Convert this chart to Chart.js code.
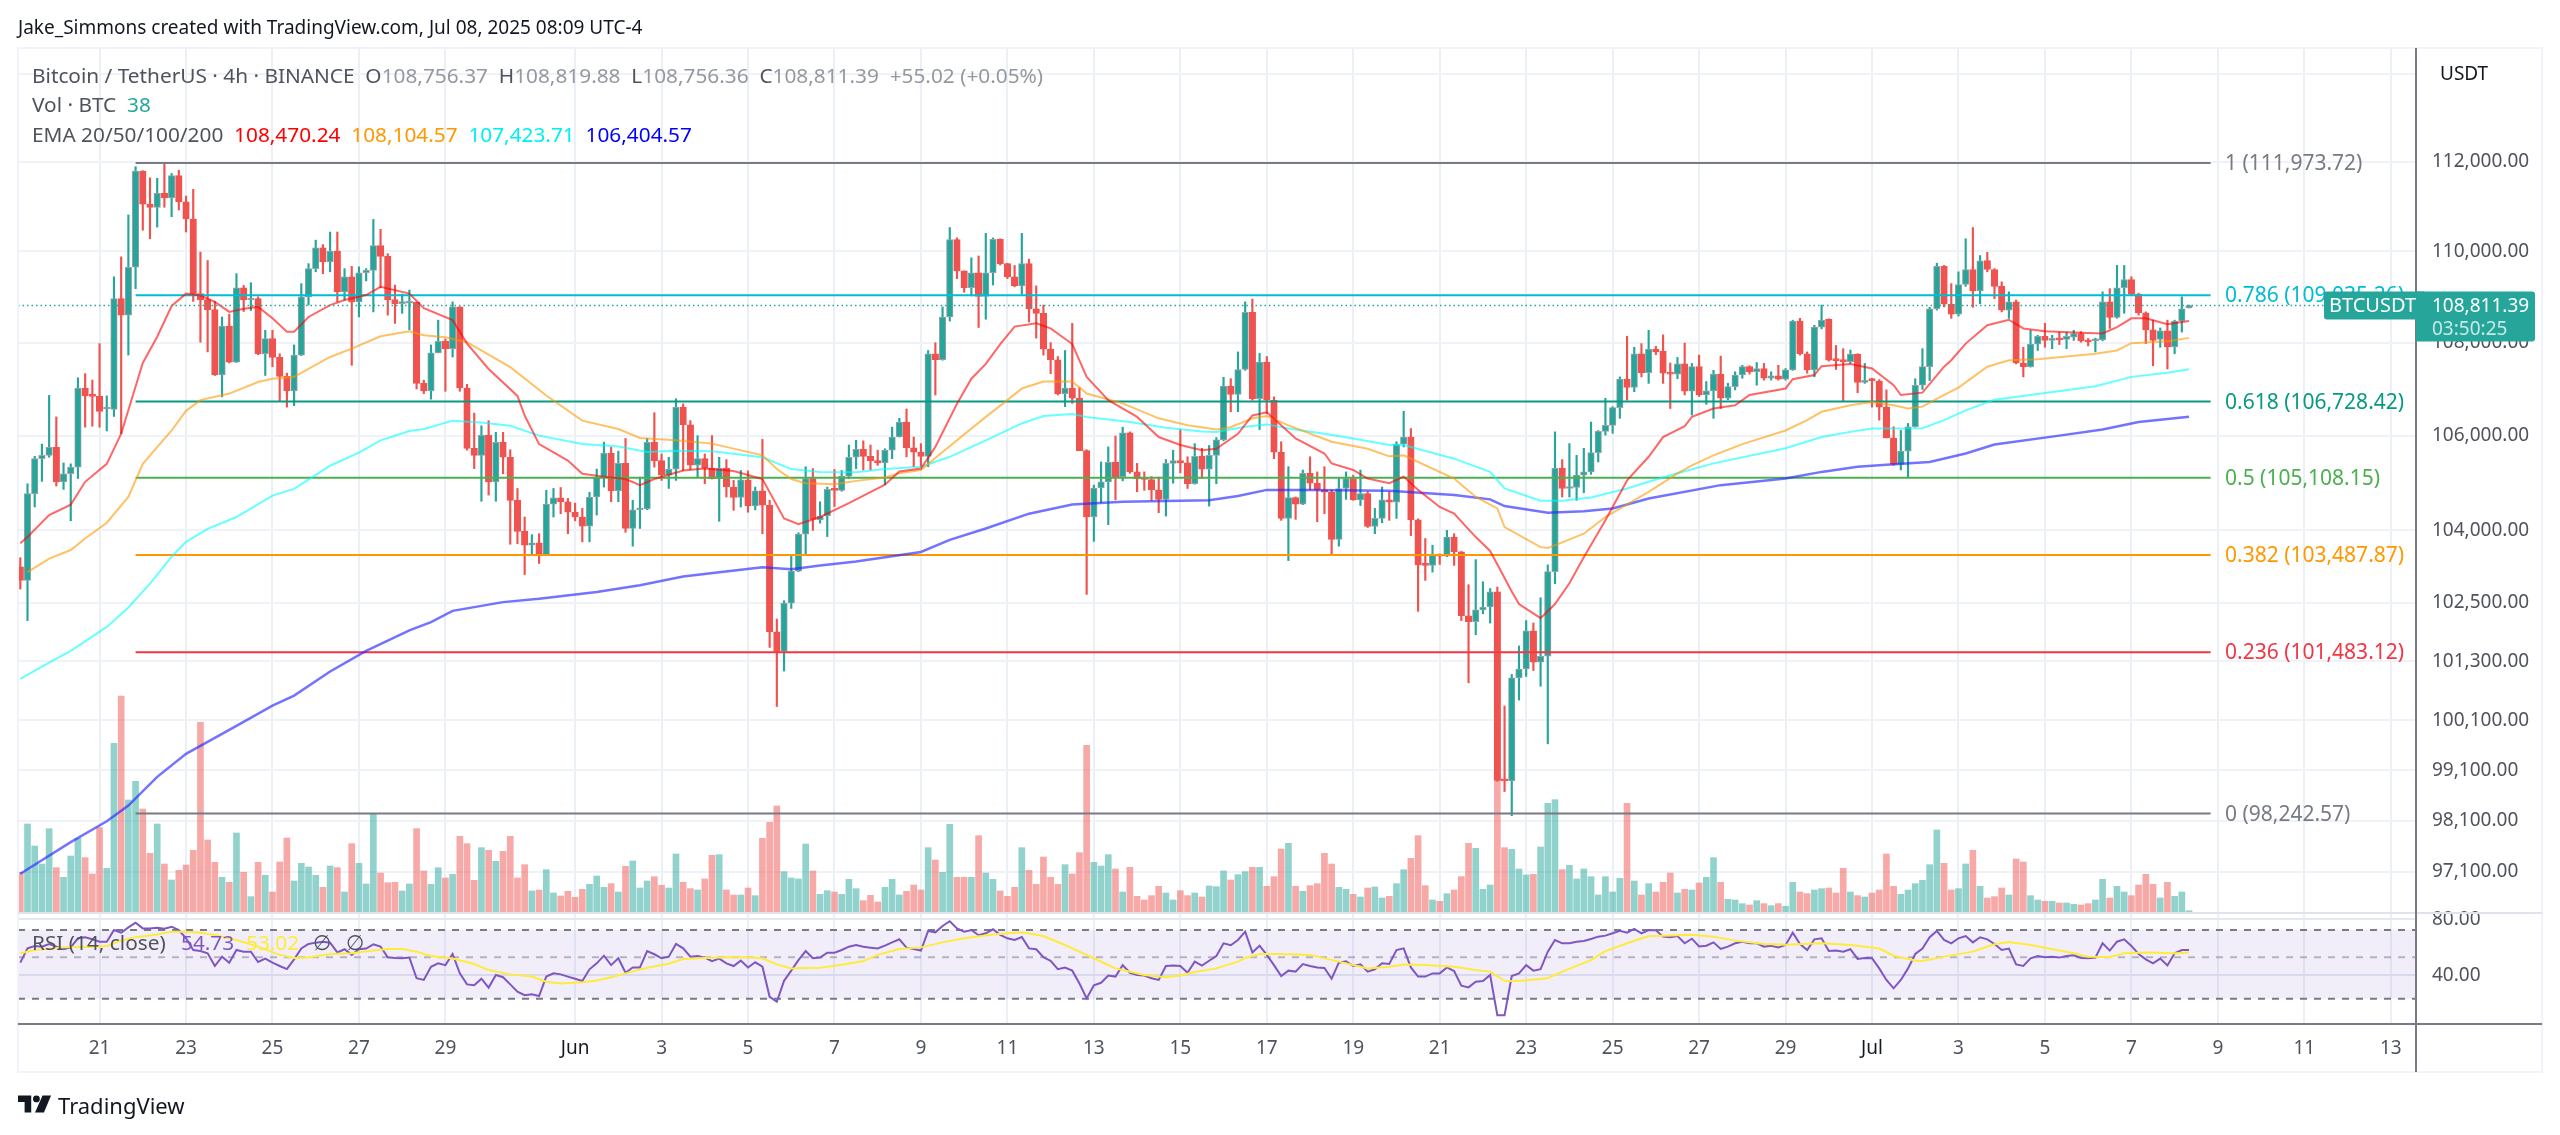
<!DOCTYPE html>
<html>
<head>
<meta charset="utf-8">
<title>BTCUSDT 4h</title>
<script src="https://cdn.jsdelivr.net/npm/chart.js@4/dist/chart.umd.min.js"></script>
<style>
  html, body { margin: 0; padding: 0; background: #fff; }
  #wrap { position: relative; width: 2560px; height: 1135px; overflow: hidden; font-family: "Noto Sans", sans-serif; }
  canvas { position: absolute; left: 0; top: 0; }
  .txt { position: absolute; white-space: pre; font-size: 19px; line-height: 24px; color: #50535e; }
  .leg { font-size: 20.8px; }
  .grey { color: #9598a1; }
</style>
</head>
<body>
<div id="wrap">
  <canvas id="chart" width="2560" height="1135"></canvas>
  <div class="txt" style="left:18px;top:15px;color:#131722">Jake_Simmons created with TradingView.com, Jul 08, 2025 08:09 UTC-4</div>
  <div class="txt leg" style="left:32px;top:63px">Bitcoin / TetherUS · 4h · BINANCE  O<span class="grey">108,756.37</span>  H<span class="grey">108,819.88</span>  L<span class="grey">108,756.36</span>  C<span class="grey">108,811.39</span>  <span class="grey">+55.02 (+0.05%)</span></div>
  <div class="txt leg" style="left:32px;top:92px">Vol · BTC  <span style="color:#26a69a">38</span></div>
  <div class="txt leg" style="left:32px;top:122px">EMA 20/50/100/200  <span style="color:#ff0000">108,470.24</span>  <span style="color:#ff9800">108,104.57</span>  <span style="color:#00f0f0">107,423.71</span>  <span style="color:#0000ff">106,404.57</span></div>
  <div class="txt leg" style="left:32px;top:930px">RSI (14, close)</div>
  <div class="txt leg" style="left:181px;top:930px;color:#7e57c2">54.73</div>
  <div class="txt leg" style="left:246px;top:930px;color:#ffeb3b">53.02</div>
  <div class="txt leg" style="left:313px;top:930px">∅</div>
  <div class="txt leg" style="left:346px;top:930px">∅</div>
  <svg style="position:absolute;left:18px;top:1095px" width="34" height="18" viewBox="0 0 36 18">
    <path d="M0 0h14v18H7V7H0z" fill="#131722"/><circle cx="19.5" cy="3.6" r="3.6" fill="#131722"/><path d="M26 0h9l-7.5 18H18z" fill="#131722"/>
  </svg>
  <div class="txt" style="left:58px;top:1092px;font-size:22px;line-height:26px;color:#131722">TradingView</div>
</div>
<script>
// candles are 4h, index 0 = May 19 04:00, index 11 = May 21 00:00
const opens = [
103240,102960,104770,105510,105580,105750,105020,105190,105330,107020,
106860,106840,106570,106560,108960,108600,109650,111790,111050,110980,
111290,111190,111690,111100,110720,109070,108940,108720,107300,108360,
107580,109200,108930,108960,107760,108090,107680,107270,106960,107730,
109000,109620,110080,109770,110010,109110,109440,108890,109530,109580,
110130,109890,108940,108850,108860,108880,107120,106960,107780,108030,
107870,108780,107020,105730,105580,106010,105020,105860,105540,104630,
103980,103690,103740,103490,104550,104680,104600,104380,104280,104090,
104700,105120,105630,104830,105410,104040,104430,104450,105860,105470,
105160,105290,106610,106230,105370,105510,105310,105080,105310,104910,
104690,105060,104510,104830,104530,101900,101500,102490,103150,103920,
105090,104220,104300,104860,104840,105140,105540,105710,105560,105470,
105420,105690,105970,106290,105740,105650,105560,107760,107630,108560,
110260,109570,109200,109530,109010,109530,110270,109730,109440,109240,
109730,108740,108640,107860,107630,106900,107020,106800,105680,104280,
104890,105020,105430,105130,106060,105230,105090,105070,104850,104650,
105410,105470,105420,104980,105560,105290,105580,105910,107060,106880,
107420,108660,106790,107580,106760,105650,104250,104690,104550,105200,
104990,104850,104800,103810,104880,105090,104640,104770,104080,104250,
104640,104590,105820,105970,104220,103280,103270,103480,103460,103860,
103550,102230,102110,102350,102410,102720,98900,98890,100960,101140,
101920,101280,101400,103140,105310,104880,104900,105160,105230,105640,
106090,106220,106600,107210,107030,107760,107350,107860,107820,107340,
107320,107540,106950,107480,106870,106960,107320,106800,107050,107300,
107480,107370,107440,107230,107280,107210,107410,108470,107760,107410,
108340,108510,107650,107610,107590,107750,107140,107190,107170,106610,
105950,105390,105670,106190,107080,107480,108740,109670,108840,108620,
109270,109600,109130,109800,109600,109230,108710,108890,107560,107480,
107970,108140,108050,108080,108070,108120,108200,108040,108040,108060,
108890,108550,109200,109380,109060,108650,108280,108070,108260,107910,
108470,108756.37];
const highs = [
103430,104980,105560,105820,106860,106400,105420,105400,107240,107330,
107190,107980,106850,109440,109880,110810,111890,111800,111640,111630,
111960,111740,111810,111230,111380,109985,109800,108900,108560,108620,
109510,109250,109310,109000,108270,108270,107760,107340,107950,109290,
109730,110250,110150,110430,110430,109620,109670,109660,109620,110710,
110490,109950,109260,109060,109150,108890,107190,107950,108490,108080,
108890,108780,107100,106480,106210,106320,106070,106070,105700,104880,
104280,103910,103930,104840,104880,104900,104670,104570,104460,104800,
105290,105860,105750,105670,105940,104630,105120,105940,106490,105610,
105540,106790,106680,106320,106000,105610,106000,105540,105490,105050,
105260,105250,104910,105920,104630,102160,102540,103480,103950,105340,
105300,104600,104910,105280,105260,105800,105900,105890,105800,105690,
105720,106180,106370,106570,105970,105830,107830,108000,108780,110530,
110300,109570,109860,109900,110400,110300,110280,109740,109690,110400,
109830,109240,108820,108000,107700,107830,108420,107030,105700,104950,
105440,105760,105990,106180,106080,105410,105230,105130,105120,105490,
105690,106130,105550,105830,105730,105790,105960,107250,107220,107800,
108890,108950,107770,107700,106830,105870,105340,104700,105270,105550,
105230,105340,104850,105090,105230,105160,105270,104810,104460,104910,
104810,105870,106520,106150,104240,103830,103690,103510,104000,103930,
103560,102870,103390,102930,102790,102820,100390,101030,101610,102130,
102080,102600,103280,106080,105490,105830,105580,105730,106290,106110,
106800,106620,107260,108140,107900,107980,108270,107920,108170,107560,
107680,107990,107550,107730,107160,107400,107710,107120,107370,107510,
107500,107570,107550,107370,107510,107440,108490,108530,107800,108380,
108820,108520,107940,107870,107840,107760,107550,107230,107200,106980,
106190,106110,106260,107220,107870,108770,109740,109690,109290,109550,
110280,110530,109910,109980,109620,109330,109110,108930,107900,108270,
108160,108420,108160,108230,108230,108270,108240,108090,108100,109110,
109180,109690,109690,109440,109080,108670,108490,108320,108490,108490,
109000,108819.88];
const lows = [
102780,102130,104490,105030,105540,104930,104860,104200,105090,106180,
106200,106180,106100,106410,106040,107730,109180,110470,110280,110540,
110980,110770,110920,110430,108900,108010,107800,107290,106830,107560,
107570,108680,108700,107740,107290,107480,106740,106610,106640,107720,
108820,109550,109510,109550,108890,108930,107510,108560,109350,108670,
109200,108600,108420,108640,108280,107000,106900,106780,107780,106950,
107690,106950,105690,105300,104610,104740,104610,105190,103710,103720,
103080,103500,103310,103490,104280,104350,103930,104200,103760,103760,
104320,104910,104600,104600,103960,103670,104040,104430,105330,105050,
104880,105050,105260,105280,105120,104980,105080,104190,104700,104420,
104490,104380,104430,103930,101580,100380,101100,102380,103140,103510,
104000,104150,103870,104500,104820,105090,105300,105270,105270,105370,
104960,105510,105970,105550,105340,105340,105340,106870,107620,108470,
109400,109100,109020,108330,108510,109260,109700,109400,109220,109060,
108450,108100,107730,107330,106870,106620,106690,105680,102670,103770,
104580,104120,104640,105040,105200,104810,104840,104630,104370,104300,
104990,105210,104880,104970,105090,104510,104980,105890,106510,106510,
107400,106760,106130,106470,105510,104210,103370,104230,104540,104850,
104180,104350,103500,103670,104650,104630,104520,104060,103930,104160,
104210,104250,105760,103890,102320,102960,103130,103290,103450,103270,
102130,100860,101840,102270,102080,98880,98680,98200,100510,100990,
101110,100790,99630,102890,104700,104700,104630,104790,105180,105440,
106010,106050,106370,106760,106940,107260,107120,107740,107120,106580,
107220,106870,106440,106840,106670,106370,106580,106770,106980,107230,
107320,107080,107190,107190,107190,107190,107400,107730,107340,107260,
108300,107600,107420,106750,107550,106920,107120,106610,106330,105950,
105370,105270,105130,106180,106990,107180,108710,108780,108530,108580,
109230,108770,108850,109550,108960,108670,108530,107540,107260,107470,
107830,107900,107870,107960,107870,108050,108010,107930,107800,108040,
108310,108530,108640,109040,108600,107980,107500,107900,107430,107760,
108230,108756.36];
const closes = [
102960,104770,105510,105580,105750,105020,105190,105330,107020,106850,
106840,106520,106600,108960,108600,109650,111790,111050,110980,111290,
111190,111690,111100,110720,109070,108940,108720,107300,108360,107580,
109200,108930,108960,107760,108090,107680,107270,106960,107730,109000,
109620,110080,109770,110010,109110,109440,108890,109530,109580,110130,
109890,108940,108850,108870,108900,107120,106960,107780,108030,107870,
108780,107020,105730,105580,106010,105020,105860,105540,104630,103980,
103690,103740,103490,104550,104680,104600,104380,104280,104090,104700,
105120,105630,104830,105410,104040,104430,104450,105860,105470,105160,
105290,106610,106230,105370,105510,105310,105080,105310,104910,104690,
105060,104510,104830,104530,101900,101500,102490,103150,103920,105090,
104230,104300,104860,104840,105140,105540,105710,105560,105470,105420,
105690,105970,106290,105740,105650,105560,107760,107630,108560,110260,
109570,109200,109530,109010,109530,110270,109730,109440,109240,109730,
108740,108640,107860,107630,106900,107020,106800,105680,104280,104890,
105020,105430,105130,106060,105230,105080,105070,104850,104650,105410,
105470,105420,104980,105560,105290,105580,105910,107060,106880,107420,
108660,106790,107580,106760,105650,104250,104690,104550,105200,104990,
104850,104800,103810,104880,105090,104640,104770,104080,104250,104640,
104590,105820,105970,104220,103280,103270,103480,103460,103860,103550,
102230,102110,102350,102410,102720,98900,98890,100960,101140,101920,
101280,101400,103140,105310,104880,104900,105160,105230,105640,106090,
106220,106600,107210,107030,107760,107350,107860,107800,107340,107320,
107540,106950,107480,106870,106960,107320,106800,107050,107300,107480,
107370,107440,107230,107280,107210,107410,108470,107760,107410,108340,
108490,107620,107610,107590,107750,107140,107180,107180,106610,105950,
105390,105670,106190,107080,107480,108740,109670,108840,108620,109270,
109600,109130,109790,109600,109230,108710,108890,107560,107480,107970,
108140,108050,108070,108060,108140,108200,108040,108020,108070,108890,
108550,109200,109380,109060,108650,108280,108050,108260,107910,108470,
108740,108811.39];
const volumes = [
1190,2640,1980,1440,2500,1330,1040,1680,2210,1630,1140,2530,1310,5060,6480,3360,3920,3090,1760,2640,
1440,960,1250,1410,1850,5690,2160,1490,1040,890,2370,1190,460,1490,1100,600,1500,2220,930,1460,
1350,1100,740,1380,1330,600,2050,1460,840,2960,1170,880,890,630,840,2500,1230,830,1330,1020,
1130,2270,2050,950,1930,1850,1520,1820,2270,1020,1420,630,660,1270,570,480,620,440,680,830,
1080,740,850,600,1370,1530,720,930,1060,800,720,1740,890,700,660,990,1700,1720,660,510,
510,720,490,2210,2690,3180,1210,1020,990,2040,1230,530,640,600,530,980,700,340,500,300,
740,980,510,620,810,660,1930,1560,1190,2630,1040,1040,1040,2290,1170,980,630,470,740,1930,
1250,830,1650,1040,830,1420,1140,1780,5000,1490,1380,1720,1290,600,1340,470,360,490,770,570,
360,640,490,570,450,780,760,1230,960,1120,1210,1340,1340,770,1060,1890,2060,770,620,790,
850,1760,1440,740,680,530,450,720,750,420,470,850,1270,1610,2290,790,360,320,550,660,
1060,2060,1910,680,810,3960,1930,1880,1290,1110,1130,1950,3260,3370,1270,1400,990,1290,1060,510,
1060,600,1010,3260,930,510,850,600,890,1170,570,680,660,870,1040,1630,890,380,360,250,
210,340,250,190,250,170,890,600,550,660,700,720,570,1310,600,490,450,570,660,1740,
770,530,660,850,950,1420,2460,1460,660,700,1440,1850,770,420,460,720,510,1590,1500,490,
360,320,320,270,270,230,210,250,360,980,420,770,600,490,810,1130,830,420,890,470,
600,38];
const rsiValues = [
46.8,55.8,57.5,57,58.9,57,55.2,56.5,63.2,64,62.4,60.6,60.6,70,67.7,72.3,76.6,71.4,71.4,72,
71.1,72.9,70,63.2,54.7,54,52.5,44.9,50.4,46.8,54.7,53.6,53.6,47.2,49.2,46.8,44.9,43.2,48.7,55.8,
58.9,59.9,60.6,59.9,53.1,55.2,51.5,55.2,55.7,58.7,57,50,49.6,49.4,49.8,38.6,37.8,44.5,46.4,45.4,
52.1,41,35.8,35.4,38.4,34.4,40.2,39.1,35.8,32.7,31.3,31.7,31,39.4,41,40.5,39.4,38.4,37.3,43.1,
46.4,51,45.4,49.4,41.3,44.1,44.1,54,51.9,49.4,50.4,58.9,55.8,50.4,50.8,49.8,47.7,49.2,46.4,44.9,
48,44.1,47,44.5,30.7,28.9,37.4,42.4,48.3,54,49.4,49.8,52.9,52.9,54.7,57,58.2,57,56.3,55.7,
57.7,60.1,62.4,56.3,55.4,54.3,69.2,68,73.6,78,71.4,68.6,70,65.6,67.2,70.6,65.9,63.2,61.9,64.2,
55.8,55.2,50,47.9,43.2,44.1,42.4,36.2,30.1,35.4,36.5,39.9,39.4,45.4,41.3,40.2,39.9,38.6,37.8,44.9,
45.2,44.9,41.3,47.4,45.1,47.9,50.8,59.4,58,61.9,68.6,53.1,57.7,51.5,45.4,39.7,42.4,41.9,46,44.9,
44.1,43.8,38.4,46.8,47.6,44.9,45.8,41.9,43.1,46.4,46,54.7,55.8,44.1,39.4,39.4,41,41,44.1,42.2,
35.2,34.5,37,37.3,40.2,24.5,24.5,39.7,41,45.4,42.4,43.2,53.6,61.9,59.4,59.4,60.6,61.1,62.6,64.5,
65.3,67.2,69.4,67.7,70.9,67.2,70,69.7,64.5,64,65,59.4,62.9,57.2,57.7,60.1,55.4,57,59.4,60.6,
59.4,59.4,57,57.7,56.5,58.2,67.7,58.9,54.7,62.4,63.2,54,54.3,53.6,55.2,49,49.6,49.4,43.6,37.8,
34.1,37.8,43.6,52.1,55.7,64,69.2,61.9,59.4,63.2,65,60.1,64,62.4,58.9,54.7,55.7,45.8,44.9,49.4,
50.8,50,50.4,49.8,50.8,51.3,49.6,49.4,49.8,59.4,54.3,60.6,62.4,57.5,52.1,48.7,46.4,49.2,45.2,52.5,
54.7,54.73];

const rsiMaIdx = [0,2,6,10,12,14,16,19,21,23,25,27,30,33,36,38,40,43,46,49,51,53,55,57,60,63,65,68,71,73,75,78,80,82,84,87,90,92,95,98,101,103,105,107,109,111,114,117,119,122,125,128,131,135,139,142,145,147,149,152,153,156,159,161,163,166,169,170,172,175,179,183,187,190,192,195,199,202,204,206,208,212,214,218,220,223,226,228,232,235,238,242,245,250,254,258,260,263,264,267,271,274,276,279,281,285,287,290,292,295,299,301];
const rsiMaVals = [52.5,54.7,56.5,57,57.5,61.4,64,66.3,68.6,68.6,67.7,65.9,61.9,57,51.5,49.6,49.8,52.1,52.5,54.3,55.4,55.4,53.6,50.8,49.2,46,42.7,40.5,39.4,37,36.2,36.8,37.6,39.1,41,43.9,46.2,48.9,49.6,50,50,49.4,45.8,43.6,43.8,43.9,45.6,47.7,51.5,55.4,56.5,60.1,63.2,66.3,68,65,58.2,53.6,49.4,43.6,42.7,40.2,39.1,39.9,41.7,43.6,47.4,49.6,52,52.1,51.5,47.4,43.6,44.5,45.8,45.4,44.5,42.7,41.9,37.4,37.3,38.6,41.9,48.3,54,59.4,65,65.3,66,64.5,61.4,58.9,58.4,59.4,58.2,55.7,51,48.1,47.7,50.4,53.6,58.7,60.4,58.2,56.3,52.5,50.4,50.2,52.5,53,52.5,53.02];

const ema20Idx = [0,1,4,7,9,12,14,17,19,21,23,25,27,29,31,33,35,37,38,40,43,45,48,50,54,56,60,62,65,69,70,72,76,78,81,84,86,88,92,95,99,103,106,108,111,115,120,122,125,127,130,132,134,136,138,141,143,146,148,151,155,158,161,164,166,169,171,173,175,177,181,182,185,187,190,192,194,197,199,202,204,207,208,211,213,215,217,220,223,226,228,231,232,235,238,240,245,246,249,250,254,257,260,261,264,267,268,270,273,276,278,281,285,289,291,293,295,298,301];
const ema20Vals = [103730,103860,104320,104540,105020,105400,106040,107560,108130,108800,109070,109030,108890,108670,108740,108780,108530,108240,108240,108560,108820,108930,109040,109220,109070,108750,108490,107980,107430,106850,106430,105820,105470,105190,105130,105080,104950,105080,105260,105300,105250,105080,104250,104130,104280,104570,104960,105240,105300,105760,106680,107220,107540,107970,108350,108420,108310,107970,107260,106760,106400,105970,105800,105690,105720,106040,106430,106500,106220,105940,105620,105410,105270,105090,104990,105130,104850,104490,104350,103860,103570,102730,102470,102180,102470,102900,103440,104210,105050,105550,105970,106200,106400,106580,106650,106870,107010,107210,107300,107490,107540,107440,107080,106870,106920,107480,107620,107980,108380,108500,108310,108250,108220,108200,108340,108530,108530,108400,108470.24];
const ema50Idx = [1,4,7,9,12,15,17,21,23,25,29,33,35,38,43,46,50,54,56,59,62,68,73,78,83,86,91,96,103,105,107,109,113,116,120,122,125,128,134,137,139,142,146,148,153,158,162,166,168,171,173,176,182,187,190,192,199,202,205,206,211,212,214,217,220,226,230,232,235,239,245,248,250,254,257,260,262,264,267,269,273,276,280,288,291,293,298,301];
const ema50Vals = [103130,103410,103590,103830,104160,104700,105400,106110,106530,106760,106900,107150,107220,107260,107690,107870,108140,108250,108160,108120,108010,107470,106860,106320,106140,105950,105900,105830,105580,105290,105080,104990,104970,105040,105110,105200,105270,105650,106400,106760,107010,107160,107160,106900,106690,106370,106220,106130,106180,106370,106420,106220,105870,105720,105560,105580,105090,104700,104460,104070,103650,103630,103750,103930,104280,104810,105200,105370,105580,105820,106110,106330,106510,106650,106720,106650,106580,106620,106870,107030,107480,107620,107640,107760,107830,107990,108030,108104.57];
const ema100Idx = [0,4,7,12,15,18,21,23,26,30,35,38,43,47,50,54,56,60,64,68,72,78,83,87,91,96,103,107,111,116,120,125,129,134,139,142,146,148,154,159,164,166,170,173,176,181,185,190,192,199,204,206,211,214,218,223,226,230,235,245,250,254,257,264,267,270,274,280,288,293,298,301];
const ema100Vals = [100940,101270,101510,102000,102400,102890,103450,103760,104030,104280,104730,104870,105360,105640,105900,106100,106140,106320,106280,106210,106000,105820,105770,105650,105680,105670,105540,105290,105230,105220,105290,105340,105550,105900,106260,106420,106460,106400,106290,106170,106090,106080,106190,106240,106150,106040,105940,105800,105800,105510,105230,104880,104620,104620,104690,104880,105020,105200,105410,105730,105970,106080,106150,106160,106330,106540,106770,106890,107060,107260,107350,107423.71];
const ema200Idx = [0,7,12,15,19,23,30,35,38,43,48,54,57,60,67,72,80,86,92,97,103,107,111,116,125,129,134,140,146,153,165,169,173,179,190,199,204,206,212,217,221,226,236,245,250,255,260,265,270,274,283,289,294,301];
const ema200Vals = [97060,97680,98090,98400,98970,99430,99990,100400,100600,101090,101510,101930,102100,102330,102510,102580,102720,102860,103040,103130,103230,103190,103270,103350,103550,103800,104040,104350,104540,104600,104630,104720,104850,104850,104830,104740,104650,104510,104370,104400,104460,104670,104950,105090,105230,105340,105390,105440,105620,105810,106000,106130,106290,106404.57];

const fibLevels = [111973.72, 109035.26, 106728.42, 105108.15, 103487.87, 101483.12, 98242.57];
const fibNames = ["1", "0.786", "0.618", "0.5", "0.382", "0.236", "0"];
const fibColors = ["#787b86", "#00bcd4", "#089981", "#4caf50", "#ff9800", "#f23645", "#787b86"];
const fibStart = 16, fibEnd = 304;

const lastPrice = 108811.39;
const xTickIdx = [11,23,35,47,59,77,89,101,113,125,137,149,161,173,185,197,209,221,233,245,257,269,281,293,305,317,329];
const xTickLabels = ["21","23","25","27","29","Jun","3","5","7","9","11","13","15","17","19","21","23","25","27","29","Jul","3","5","7","9","11","13"];
const priceTicks = [97100,98100,99100,100100,101300,102500,104000,106000,108000,110000,112000,114000];
const priceHiddenTick = 114000;
const rsiTicks = [40,80];
const rsiBands = [70,50,30];

const UP = "#26a69a", DOWN = "#ef5350";
const FONT = '"Noto Sans", sans-serif';
const isUp = i => closes[i] >= opens[i];
const money = v => v.toLocaleString("en-US", {minimumFractionDigits: 2, maximumFractionDigits: 2});
const idx = opens.map((_, i) => i);
const xMin = -0.32, xMax = 332.5;

function lineSet(xs, ys, color, order, extra) {
  return Object.assign({
    type: "line",
    data: xs.map((x, i) => ({x: x, y: ys[i]})),
    borderColor: color,
    borderWidth: 2,
    pointRadius: 0,
    tension: 0,
    fill: false,
    order: order
  }, extra);
}

const datasets = [];
datasets.push({
  type: "bar", yAxisID: "vol", order: 20, grouped: false, barThickness: 6,
  data: idx.map(i => ({x: i, y: volumes[i]})),
  backgroundColor: idx.map(i => isUp(i) ? "rgba(38,166,154,0.5)" : "rgba(239,83,80,0.5)")
});
datasets.push({
  type: "bar", yAxisID: "y", order: 15, grouped: false, barThickness: 1.5,
  data: idx.map(i => ({x: i, y: [lows[i], highs[i]]})),
  backgroundColor: idx.map(i => isUp(i) ? UP : DOWN)
});
datasets.push({
  type: "bar", yAxisID: "y", order: 14, grouped: false, barThickness: 6.5, minBarLength: 2,
  data: idx.map(i => ({x: i, y: [opens[i], closes[i]]})),
  backgroundColor: idx.map(i => isUp(i) ? UP : DOWN),
  borderColor: idx.map(i => isUp(i) ? "#9aa0a8" : DOWN),
  borderWidth: 1, borderSkipped: false
});
datasets.push(lineSet(ema200Idx, ema200Vals, "rgba(40,40,255,0.65)", 10, {yAxisID: "y", borderWidth: 2.5}));
datasets.push(lineSet(ema100Idx, ema100Vals, "rgba(0,255,255,0.6)", 9, {yAxisID: "y"}));
datasets.push(lineSet(ema50Idx, ema50Vals, "rgba(255,152,0,0.6)", 8, {yAxisID: "y"}));
datasets.push(lineSet(ema20Idx, ema20Vals, "rgba(255,0,0,0.6)", 7, {yAxisID: "y"}));
fibLevels.forEach((lv, k) => {
  datasets.push(lineSet([fibStart, fibEnd], [lv, lv], fibColors[k], 12, {yAxisID: "y"}));
});
datasets.push(lineSet([xMin, xMax], [lastPrice, lastPrice], "#26a69a", 6, {yAxisID: "y", borderWidth: 1.5, borderDash: [1.5, 3]}));

// RSI pane
datasets.push(lineSet([xMin, xMax], [rsiBands[0], rsiBands[0]], "#787b86", 5, {
  yAxisID: "rsi", borderDash: [7, 7], fill: {target: {value: rsiBands[2]}, above: "rgba(126,87,194,0.1)", below: "rgba(126,87,194,0.1)"}
}));
datasets.push(lineSet([xMin, xMax], [rsiBands[1], rsiBands[1]], "rgba(120,123,134,0.5)", 5, {yAxisID: "rsi", borderDash: [7, 7]}));
datasets.push(lineSet([xMin, xMax], [rsiBands[2], rsiBands[2]], "#787b86", 5, {yAxisID: "rsi", borderDash: [7, 7]}));
datasets.push(lineSet(idx, rsiValues, "#7e57c2", 3, {yAxisID: "rsi"}));
datasets.push(lineSet(rsiMaIdx, rsiMaVals, "#ffeb3b", 2, {yAxisID: "rsi"}));

// frame, fib labels and the last price tag
const overlay = {
  id: "overlay",
  afterDraw(chart) {
    const ctx = chart.ctx, yS = chart.scales.y, a = chart.chartArea;
    ctx.save();
    ctx.strokeStyle = "#f0f3fa"; ctx.lineWidth = 2;
    ctx.strokeRect(18, 48, 2524, 1024);
    ctx.strokeStyle = "#e0e3eb";
    ctx.beginPath(); ctx.moveTo(18, 913); ctx.lineTo(2542, 913); ctx.stroke();
    ctx.strokeStyle = "#787b86";
    ctx.beginPath(); ctx.moveTo(a.right, 48); ctx.lineTo(a.right, 1072); ctx.stroke();
    ctx.beginPath(); ctx.moveTo(18, a.bottom); ctx.lineTo(2542, a.bottom); ctx.stroke();

    ctx.font = "21px " + FONT; ctx.textBaseline = "middle"; ctx.textAlign = "left";
    fibLevels.forEach((lv, k) => {
      ctx.fillStyle = fibColors[k];
      ctx.fillText(fibNames[k] + " (" + money(lv) + ")", 2225, yS.getPixelForValue(lv) + 1);
    });
    ctx.font = "19px " + FONT;
    ctx.fillStyle = "#131722";
    ctx.fillText("USDT", 2440, 75);

    const y = yS.getPixelForValue(lastPrice);
    ctx.fillStyle = UP;
    ctx.beginPath(); ctx.roundRect(2324, y - 14, 100, 28, [3, 0, 0, 3]); ctx.fill();
    ctx.beginPath(); ctx.roundRect(a.right, y - 14, 119, 50, [0, 3, 3, 0]); ctx.fill();
    ctx.fillStyle = "#ffffff";
    ctx.font = "20px " + FONT;
    ctx.fillText("BTCUSDT", 2329, y + 1);
    ctx.font = "19px " + FONT;
    ctx.fillText(money(lastPrice), 2432, y + 1);
    ctx.fillStyle = "rgba(255,255,255,0.75)";
    ctx.fillText("03:50:25", 2432, y + 24);
    ctx.restore();
  }
};

const tickFont = {family: FONT, size: 19};
new Chart(document.getElementById("chart"), {
  data: {datasets: datasets},
  plugins: [overlay],
  options: {
    responsive: false,
    animation: false,
    devicePixelRatio: 1,
    layout: {padding: {left: 18, top: 48, right: 18, bottom: 63}},
    plugins: {legend: {display: false}, tooltip: {enabled: false}},
    scales: {
      x: {
        type: "linear", min: xMin, max: xMax, offset: false,
        afterBuildTicks: s => { s.ticks = xTickIdx.map(v => ({value: v})); },
        afterFit: s => { s.height = 48; },
        grid: {color: "#eaf0f6", lineWidth: 2, drawTicks: false, offset: false},
        border: {display: false},
        ticks: {
          autoSkip: false, maxRotation: 0, padding: 13, font: tickFont,
          color: c => (xTickLabels[c.index] === "Jun" || xTickLabels[c.index] === "Jul") ? "#131722" : "#50535e",
          callback: (v, i) => xTickLabels[i]
        }
      },
      y: {
        type: "logarithmic", position: "right", stack: "panes", stackWeight: 865,
        min: 96298, max: 114593,
        afterBuildTicks: s => { s.ticks = priceTicks.map(v => ({value: v})); },
        afterFit: s => { s.width = 126; },
        grid: {color: "#eff3f8", lineWidth: 2, drawTicks: false},
        border: {display: false},
        ticks: {
          autoSkip: false, padding: 16, crossAlign: "near", font: tickFont, color: "#50535e",
          callback: v => v === priceHiddenTick ? "" : money(v)
        }
      },
      rsi: {
        type: "logarithmic", position: "right", stack: "panes", stackWeight: 111,
        min: 21.96, max: 86.33,
        afterBuildTicks: s => { s.ticks = rsiTicks.map(v => ({value: v})); },
        afterFit: s => { s.width = 126; },
        grid: {color: "#e4e8f2", lineWidth: 2, drawTicks: false},
        border: {display: false},
        ticks: {
          autoSkip: false, padding: 16, crossAlign: "near", font: tickFont, color: "#50535e",
          callback: v => v.toFixed(2)
        }
      },
      vol: {
        type: "linear", display: false, min: -3360, max: 25920
      }
    }
  }
});
</script>
</body>
</html>
